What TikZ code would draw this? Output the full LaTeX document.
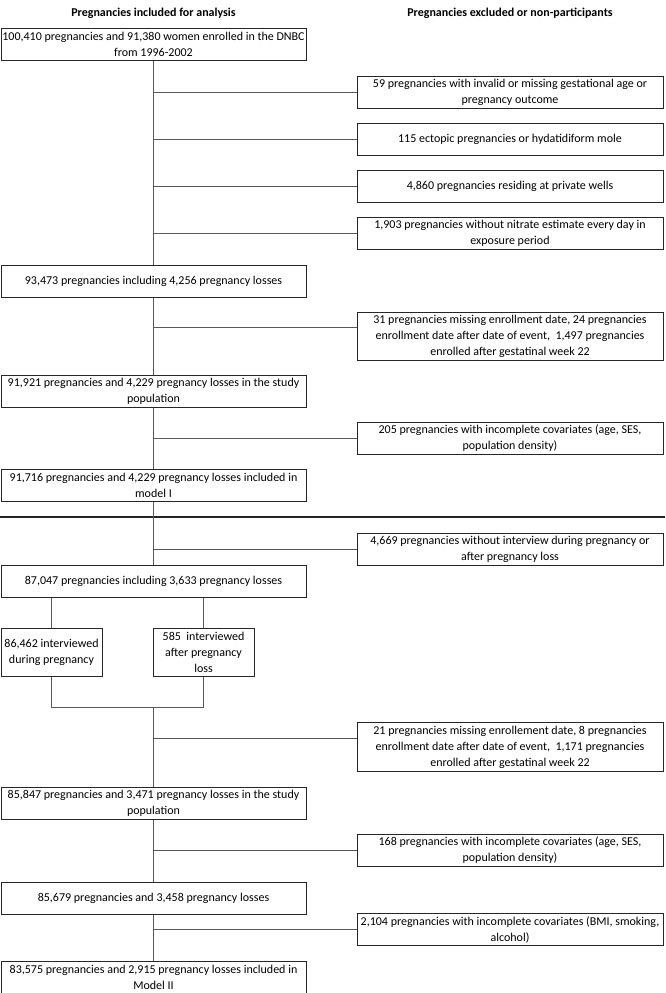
\documentclass[tikz,border=0pt]{standalone}
\usepackage{fontspec}
\setmainfont{Carlito}
\usetikzlibrary{calc}
\definecolor{boxc}{HTML}{262626}
\definecolor{linec}{HTML}{595959}
\newcommand\boxfont{\fontsize{12}{16}\selectfont}
\tikzset{
  box/.style={draw=boxc, line width=1pt, align=center, inner sep=0pt, minimum height=32pt, font=\boxfont},
  lbox/.style={box, minimum width=305pt},
  rbox/.style={box, minimum width=306pt},
  sbox/.style={box, minimum width=101pt, minimum height=48pt},
  conn/.style={draw=linec, line width=1pt},
  hdr/.style={font=\fontsize{12}{14}\selectfont\bfseries},
}
\begin{document}
\begin{tikzpicture}[x=1pt,y={(0pt,-1pt)}]
\useasboundingbox (0,0) rectangle (665,993);
\node[hdr] (hl) at (153.5,13) {Pregnancies included for analysis};
\node[hdr] (hr) at (510,13) {Pregnancies excluded or non-participants};
% left column
\node[lbox] (A) at (153.5,44.5) {100,410 pregnancies and 91,380 women enrolled in the DNBC\\from 1996-2002};
\node[lbox] (B) at (153.5,281) {93,473 pregnancies including 4,256 pregnancy losses};
\node[lbox] (C) at (153.5,391) {91,921 pregnancies and 4,229 pregnancy losses in the study\\population};
\node[lbox] (D) at (153.5,485.5) {91,716 pregnancies and 4,229 pregnancy losses included in\\model I};
\node[lbox] (E) at (153.5,581) {87,047 pregnancies including 3,633 pregnancy losses};
\node[sbox] (F) at (51.5,652) {86,462 interviewed\\during pregnancy};
\node[sbox, minimum width=101pt] (G) at (203.5,652) {585~ interviewed\\after pregnancy\\loss};
\node[lbox] (H) at (153.5,803) {85,847 pregnancies and 3,471 pregnancy losses in the study\\population};
\node[lbox] (I) at (153.5,898) {85,679 pregnancies and 3,458 pregnancy losses};
\node[lbox] (J) at (153.5,977) {83,575 pregnancies and 2,915 pregnancy losses included in\\Model II};
% right column
\node[rbox] (r1) at (510,92) {59 pregnancies with invalid or missing gestational age or\\pregnancy outcome};
\node[rbox] (r2) at (510,139) {115 ectopic pregnancies or hydatidiform mole};
\node[rbox] (r3) at (510,186.5) {4,860 pregnancies residing at private wells};
\node[rbox] (r4) at (510,233) {1,903 pregnancies without nitrate estimate every day in\\exposure period};
\node[rbox, minimum height=48pt] (r5) at (510,336) {31 pregnancies missing enrollment date, 24 pregnancies\\enrollment date after date of event,~ 1,497 pregnancies\\enrolled after gestatinal week 22};
\node[rbox] (r6) at (510,438.5) {205 pregnancies with incomplete covariates (age, SES,\\population density)};
\node[rbox] (r7) at (510,549.5) {4,669 pregnancies without interview during pregnancy or\\after pregnancy loss};
\node[rbox, minimum height=49pt] (r8) at (510,747) {21 pregnancies missing enrollement date, 8 pregnancies\\enrollment date after date of event,~ 1,171 pregnancies\\enrolled after gestatinal week 22};
\node[rbox] (r9) at (510,850.5) {168 pregnancies with incomplete covariates (age, SES,\\population density)};
\node[rbox] (r10) at (510,929.5) {2,104 pregnancies with incomplete covariates (BMI, smoking,\\alcohol)};
% separator
\coordinate (sepL) at (0,517);
\coordinate (sepR) at (665,517);
\draw[draw=boxc, line width=2pt] (sepL) -- (sepR);
% trunk
\draw[conn] (A.south) -- (B.north);
\draw[conn] (B.south) -- (C.north);
\draw[conn] (C.south) -- (D.north);
\draw[conn] (D.south) -- (E.north);
\draw[conn] (E.south -| F.north) -- (F.north);
\draw[conn] (E.south -| G.north) -- (G.north);
\coordinate (jl) at (51.5,707);
\coordinate (jr) at (203.5,707);
\coordinate (jm) at (153.5,707);
\draw[conn] (F.south) -- (jl) -- (jr) -- (G.south);
\draw[conn] (jm) -- (H.north);
\draw[conn] (H.south) -- (I.north);
\draw[conn] (I.south) -- (J.north);
% branches
\draw[conn] (r1.west) -- (r1.west -| A.south);
\draw[conn] (r2.west) -- (r2.west -| A.south);
\draw[conn] (r3.west) -- (r3.west -| A.south);
\draw[conn] (r4.west) -- (r4.west -| A.south);
\coordinate (b5) at ($(r5.north west)+(0,15.7)$);
\draw[conn] (b5) -- (b5 -| B.south);
\draw[conn] (r6.west) -- (r6.west -| C.south);
\draw[conn] (r7.west) -- (r7.west -| D.south);
\coordinate (b8) at ($(r8.north west)+(0,16.3)$);
\draw[conn] (b8) -- (b8 -| H.north);
\draw[conn] (r9.west) -- (r9.west -| H.south);
\draw[conn] (r10.west) -- (r10.west -| I.south);
\end{tikzpicture}
\end{document}
